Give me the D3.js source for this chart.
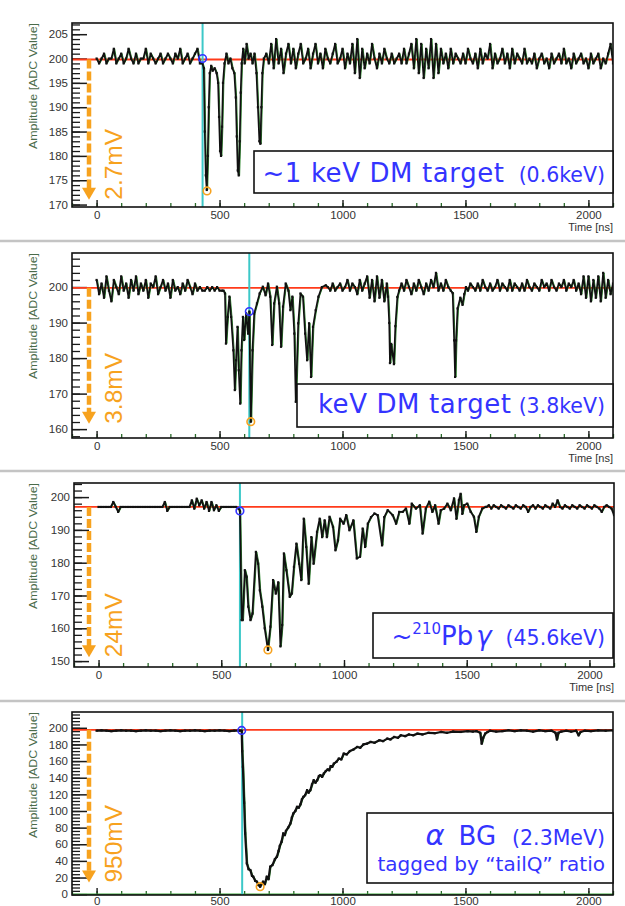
<!DOCTYPE html>
<html>
<head>
<meta charset="utf-8">
<script src="https://cdn.jsdelivr.net/npm/d3@7"></script>
<style>
  body { margin: 0; background: #fff; }
  svg { display: block; }
</style>
</head>
<body>
<div id="chart"></div>
<script>
// ---- data ----
const xTicks = [0, 500, 1000, 1500, 2000];

const p1YLabels = [170, 175, 180, 185, 190, 195, 200, 205];
const p2YLabels = [160, 170, 180, 190, 200];
const p3YLabels = [150, 160, 170, 180, 190, 200];
const p4YLabels = [0, 20, 40, 60, 80, 100, 120, 140, 160, 180, 200];

// panel 1: ~1 keV DM target
const p1NoiseA = [200, 199, 200, 201, 199, 200, 200, 202, 199, 200, 201, 199, 200, 202, 200, 199, 201, 199, 200, 200,
  202, 199, 201, 200, 199, 200, 201, 199, 200, 201, 200, 199, 201, 200, 202, 199, 200, 201, 199, 200, 201, 202, 199]; // 0..420 every 10
const p1Pulse = [[430, 199], [436, 198], [440, 185], [444, 176], [448, 173], [452, 180], [456, 190], [460, 197], [466, 198.5],
  [472, 197.5], [480, 198], [488, 197], [494, 195], [498, 188], [502, 181], [506, 180], [510, 186], [514, 195], [520, 199],
  [528, 201], [536, 199], [544, 200], [552, 198], [560, 197], [566, 192], [570, 184], [574, 177], [578, 176], [582, 183],
  [586, 193], [590, 199], [596, 202], [602, 199], [610, 203], [618, 200], [626, 201], [634, 199], [642, 201], [650, 197],
  [656, 190], [662, 183], [666, 182.5], [670, 190], [674, 197], [680, 200]];
const p1NoiseB = [201, 199, 203, 198, 204, 199, 202, 197, 201, 203, 199, 202, 198, 201, 203, 199, 200, 202, 198, 201,
  203, 199, 201, 198, 202, 200, 199, 201, 203, 199, 200, 202, 198, 201, 199, 203, 197, 204, 196, 202,
  198, 201, 199, 203, 200, 198, 201, 199, 202, 200, 199, 201, 199, 200, 201, 199, 202, 199, 201, 203,
  198, 204, 197, 203, 196, 202, 198, 204, 196, 203, 197, 202, 199, 201, 198, 202, 199, 201, 200, 199,
  201, 199, 202, 200, 199, 201, 198, 202, 199, 201, 200, 203, 198, 201, 199, 200, 202, 199, 201, 198,
  202, 199, 201, 200, 199, 202, 199, 200, 199, 201, 198, 200, 201, 199, 200, 198, 201, 199, 200, 201,
  199, 202, 199, 200, 198, 201, 199, 200, 201, 199, 200, 198, 201, 199, 200, 201, 198, 200, 199, 201,
  203, 199]; // 690..2100 every 10

// panel 2: keV DM target
const p2NoiseA = [202, 198, 201, 197, 203, 199, 196, 202, 200, 198, 203, 199, 201, 197, 202, 199, 203, 198, 201, 199,
  202, 197, 201, 200, 203, 198, 200, 202, 199, 201, 197, 202, 199, 200, 198, 201, 199, 202, 200, 198,
  201, 199, 200, 199, 199, 200, 199, 200, 199, 200, 199, 199]; // 0..510 every 10
const p2Pulse = [[516, 199], [522, 198.2], [526, 184.1], [533, 191.6], [540, 197.3], [547, 191.6], [556, 182.2], [562, 171],
  [567, 179.4], [573, 188.8], [578, 176.6], [584, 167.2], [589, 182.2], [595, 191.6], [600, 185.1], [608, 192.6],
  [616, 186.9], [621, 193.1], [627, 162.1], [634, 182.2], [641, 192.6], [652, 195.4], [663, 198.2], [676, 200.1],
  [687, 197.7], [697, 201], [706, 197.3], [714, 183.7], [722, 195.4], [733, 200.1], [742, 195.4], [750, 183.2],
  [758, 194.5], [769, 201], [780, 199], [788, 193.5], [796, 197.3], [804, 186.9], [810, 167.7], [820, 189.8],
  [829, 198.2], [839, 197.3], [848, 186.9], [856, 179.4], [864, 189.8], [872, 174.7], [880, 188.8], [891, 193.5],
  [902, 197.3], [916, 200], [932, 200.5]];
const p2NoiseB = [200, 199, 201, 199, 200, 201, 199, 200, 202, 199, 201, 200, 198, 202, 199, 201, 203, 197, 202, 196,
  203, 197, 202, 196, 201]; // 940..1180 every 10
const p2PulseB = [[1185, 197.3], [1190, 189.9], [1193, 178.6], [1198, 184], [1204, 181], [1209, 178.3], [1215, 189],
  [1223, 197.2], [1230, 199]];
const p2NoiseC = [201, 199, 202, 200, 198, 201, 199, 202, 200, 198, 201, 199, 202, 200, 204, 199, 201, 199, 202, 200,
  199]; // 1240..1440 every 10
const p2PulseC = [[1448, 198.3], [1454, 185], [1458, 174.7], [1462, 185], [1468, 194], [1479, 197], [1488, 195],
  [1495, 198], [1502, 200]];
const p2NoiseD = [199, 201, 200, 199, 201, 199, 202, 200, 199, 201, 199, 200, 202, 199, 201, 200, 199, 202, 199, 201,
  200, 199, 201, 199, 202, 200, 199, 201, 200, 199, 202, 200, 201, 199, 202, 200, 199, 201, 200, 202,
  199, 201, 200, 202, 199, 201, 198, 203, 197, 203, 196, 202, 197, 203, 196, 204, 197, 202, 198, 201]; // 1510..2100

// panel 3: ~210Pb gamma
const p3NoiseA = [197, 197, 197, 197, 197, 197, 198.5, 197, 195.5, 197, 197, 197, 197, 197, 197, 197, 197, 197, 197, 197,
  197, 197, 197, 197, 197, 197, 197, 198.5, 195.8, 197, 197, 197, 197, 197, 197, 197, 197, 197, 199, 196.5,
  199.5, 197.5, 199, 196.5, 198.5, 195.8, 198.5, 196, 197.5, 195.8, 197, 197, 197, 197, 197, 197, 197, 196.5]; // 0..570
const p3Pulse = [[576, 195.8], [583, 162.5], [587, 162.5], [596, 177.7], [603, 175.7], [610, 166.6], [619, 162.5],
  [627, 164.5], [641, 183.3], [650, 179.7], [657, 171.6], [667, 166.6], [677, 160], [690, 153.4], [700, 160.5],
  [711, 174.7], [722, 170.6], [732, 174], [741, 154.5], [748, 161], [755, 182.8], [765, 177.7], [779, 169.6],
  [787, 170.6], [796, 178.7], [806, 185.8], [817, 179.7], [826, 174.7], [836, 193.4], [846, 184.8], [856, 173.6],
  [867, 187.8], [876, 179.7], [890, 189.4], [901, 193.4], [911, 187.8], [921, 192.9], [930, 187.8], [941, 194],
  [955, 190.9], [965, 183.8], [975, 186.8], [984, 193.4], [998, 191.9], [1009, 194.5], [1022, 189.9], [1038, 192.9],
  [1052, 181.3], [1065, 181.8], [1076, 190.4], [1086, 184.8], [1097, 191.9], [1110, 193.9], [1124, 195], [1137, 194.5],
  [1155, 185.3], [1164, 193.9], [1178, 196], [1198, 194.5], [1212, 191.9], [1225, 195.5], [1239, 195.5], [1252, 196.5],
  [1266, 191.9], [1276, 198], [1293, 196.5], [1309, 197.5], [1320, 188.9], [1333, 196.5], [1347, 198.6], [1360, 195.5],
  [1371, 197.5], [1385, 191.9], [1394, 196], [1408, 196.5], [1421, 198], [1435, 196], [1448, 199.6], [1458, 193.4],
  [1468, 199.1], [1475, 201], [1482, 194.9], [1489, 197.5], [1502, 198], [1516, 195.5], [1529, 194], [1539, 189.4],
  [1549, 194], [1563, 196.5], [1577, 197]];
const p3NoiseB = [197, 197.5, 196.5, 197.5, 197, 196.5, 197.5, 197, 196.5, 197.5, 197, 196.5, 197.5, 197, 196.5, 197.5,
  197, 195.5, 197, 197.5, 196.5, 197.5, 197, 196.5, 197.5, 197, 196.5, 198, 197, 199, 197, 196.5, 197.5, 197, 196.5,
  197.5, 197, 196.5, 197.5, 197, 196.5, 197.5, 197, 196.5, 197.5, 197, 196.5, 195.5, 197, 197.5, 197, 196.5, 194.5]; // 1580..2100

// panel 4: alpha BG
const p4NoiseA = [196.5, 197, 196.5, 196, 196.5, 197, 196.5, 196.5, 196, 196.5, 197, 196.5, 196.5, 196, 196.5, 197,
  196.5, 196, 196.5, 196.5, 197, 196.5, 196, 196.5, 196.5, 197, 196.5, 196, 196.5, 196.5]; // 0..580 every 20
const p4Pulse = [[590, 196.5], [592, 172], [595, 153], [600, 110], [604, 73], [611, 37], [618, 30], [625, 29], [632, 22],
  [637, 21], [645, 16], [652, 15], [658, 11], [665, 9], [670, 12], [677, 15], [684, 12], [692, 21], [699, 18], [706, 33],
  [715, 35], [725, 42], [733, 45], [740, 52], [745, 58], [752, 63], [759, 73], [765, 71], [770, 76], [779, 80], [788, 85],
  [794, 92], [800, 97], [808, 100], [815, 105], [822, 104], [829, 108], [835, 114], [841, 117], [848, 119], [856, 125],
  [862, 122], [869, 125], [876, 132], [883, 137], [890, 134], [897, 137], [904, 142], [910, 143], [917, 141], [924, 145],
  [932, 148], [940, 150], [946, 149], [952, 154], [958, 153], [965, 157], [975, 159], [985, 163], [995, 162], [1005, 169],
  [1017, 168], [1030, 172], [1045, 174], [1060, 177], [1072, 176], [1085, 180], [1100, 181], [1114, 183], [1130, 182],
  [1150, 185], [1165, 184], [1182, 187], [1195, 186], [1210, 189], [1225, 188], [1237, 191], [1255, 190], [1270, 192],
  [1288, 191], [1305, 193], [1325, 192], [1350, 194], [1375, 193.5], [1400, 195], [1425, 194], [1450, 195.5],
  [1480, 195], [1509, 196], [1530, 195.5], [1545, 196], [1560, 194], [1566, 181], [1572, 188], [1580, 193], [1590, 195],
  [1600, 196.5], [1625, 195.5], [1650, 196], [1675, 197], [1700, 196], [1725, 197], [1750, 196.5], [1775, 195.5],
  [1800, 197], [1825, 196], [1850, 196.5], [1866, 194], [1872, 186], [1878, 194], [1890, 195.5], [1910, 196.5],
  [1930, 195.5], [1950, 196.5], [1960, 191], [1968, 195], [1985, 196.5], [2010, 196], [2040, 197], [2070, 196.5],
  [2100, 197]];

// annotations per panel
const baselines = [199.8, 199.8, 197, 197.6];
const triggerTimes = [431, 621, 576, 592];
const startPoints = [[431, 200], [621, 193.1], [576, 195.8], [590, 196.8]];
const peakPoints = [[449, 172.8], [627, 162.1], [690, 153.4], [665, 9]];
const arrowEnds = [171, 161.5, 151.2, 14];
const arrowLabels = ["2.7mV", "3.8mV", "24mV", "950mV"];

// ---- helpers ----
const every = (start, step, values) => values.map((v, i) => [start + i * step, v]);

const waves = [
  [...every(0, 10, p1NoiseA), ...p1Pulse, ...every(690, 10, p1NoiseB)],
  [...every(0, 10, p2NoiseA), ...p2Pulse, ...every(940, 10, p2NoiseB), ...p2PulseB,
   ...every(1240, 10, p2NoiseC), ...p2PulseC, ...every(1510, 10, p2NoiseD)],
  [...every(0, 10, p3NoiseA), ...p3Pulse, ...every(1580, 10, p3NoiseB)],
  [...every(0, 20, p4NoiseA), ...p4Pulse]
];

const yLabels = [p1YLabels, p2YLabels, p3YLabels, p4YLabels];

// ---- layout ----
const W = 625, H = 906;
const frames = [
  { x0: 72, x1: 613, y0: 23, y1: 207, yDom: [169.5, 207.3], minor: 1, timeLabel: true, pad: 4, lw: 1.7 },
  { x0: 72, x1: 613, y0: 253, y1: 438, yDom: [157.5, 209.6], minor: 2, timeLabel: true, pad: 4, lw: 1.7 },
  { x0: 74, x1: 614, y0: 483, y1: 667, yDom: [148.2, 204.3], minor: 2, timeLabel: true, pad: 4, lw: 1.8 },
  { x0: 72, x1: 613, y0: 712, y1: 895, yDom: [-1, 219], minor: 4, timeLabel: false, pad: 1.5, lw: 2.2 }
];
const legendBoxes = [
  { x0: 254, y0: 151, x1: 613, y1: 193 },
  { x0: 297, y0: 384, x1: 613, y1: 427 },
  { x0: 373, y0: 613, x1: 613, y1: 658 },
  { x0: 367, y0: 813, x1: 613, y1: 883 }
];
const separators = [241, 471, 701];

const BLUE = "#3434ff", ORANGE = "#f7a21e", RED = "#ff3a1a", CYAN = "#3cc8c8";
const tickFont = "'Liberation Sans', Arial, sans-serif";
const legendFont = "'DejaVu Sans', sans-serif";

const svg = d3.select("#chart").append("svg")
  .attr("width", W)
  .attr("height", H)
  .attr("viewBox", `0 0 ${W} ${H}`);

svg.append("rect").attr("width", W).attr("height", H).attr("fill", "#fff");

// light panel separators
separators.forEach(y => {
  svg.append("line").attr("x1", 0).attr("x2", W).attr("y1", y).attr("y2", y)
    .attr("stroke", "#c4c4c4").attr("stroke-width", 2.5);
});

frames.forEach((f, i) => {
  const g = svg.append("g");
  const x = d3.scaleLinear().domain([-100, 2100]).range([f.x0, f.x1]);
  const y = d3.scaleLinear().domain(f.yDom).range([f.y1, f.y0]);

  const clipId = `clip${i}`;
  svg.append("clipPath").attr("id", clipId).append("rect")
    .attr("x", f.x0).attr("y", f.y0).attr("width", f.x1 - f.x0).attr("height", f.y1 - f.y0);

  // y axis: major + minor ticks pointing inward
  const minorY = d3.range(Math.ceil(f.yDom[0] / f.minor) * f.minor, f.yDom[1], f.minor);
  g.append("g").attr("transform", `translate(${f.x0},0)`)
    .call(d3.axisLeft(y).tickValues(minorY).tickSizeInner(-8).tickSizeOuter(0).tickFormat(""))
    .call(a => a.select(".domain").remove())
    .call(a => a.selectAll("line").attr("stroke", "#1a1a1a").attr("stroke-width", 1.3));
  g.append("g").attr("transform", `translate(${f.x0},0)`)
    .call(d3.axisLeft(y).tickValues(yLabels[i]).tickSizeInner(-15).tickSizeOuter(0).tickPadding(4))
    .call(a => a.select(".domain").remove())
    .call(a => a.selectAll("line").attr("stroke", "#1a1a1a").attr("stroke-width", 1.5))
    .call(a => a.selectAll("text").attr("font-family", tickFont).attr("font-size", 11.5).attr("fill", "#333"));

  // x axis: major + minor ticks pointing up
  g.append("g").attr("transform", `translate(0,${f.y1})`)
    .call(d3.axisBottom(x).tickValues(d3.range(-100, 2101, 100)).tickSizeInner(-4).tickSizeOuter(0).tickFormat(""))
    .call(a => a.select(".domain").remove())
    .call(a => a.selectAll("line").attr("stroke", "#2a6a2a").attr("stroke-width", 1.3));
  g.append("g").attr("transform", `translate(0,${f.y1})`)
    .call(d3.axisBottom(x).tickValues(xTicks).tickFormat(d3.format("d"))
      .tickSizeInner(-7).tickSizeOuter(0).tickPadding(f.pad))
    .call(a => a.select(".domain").remove())
    .call(a => a.selectAll("line").attr("stroke", "#1a1a1a").attr("stroke-width", 1.4))
    .call(a => a.selectAll("text").attr("font-family", tickFont).attr("font-size", 11.5).attr("fill", "#333"));

  // axis titles
  g.append("text")
    .attr("transform", `translate(37,${f.y0}) rotate(-90)`)
    .attr("text-anchor", "end")
    .attr("font-family", tickFont).attr("font-size", 10.5).attr("fill", "#4a6b4a")
    .attr("textLength", 126).attr("lengthAdjust", "spacingAndGlyphs")
    .text("Amplitude [ADC Value]");
  if (f.timeLabel) {
    g.append("text")
      .attr("x", f.x1).attr("y", f.y1 + 24)
      .attr("text-anchor", "end")
      .attr("font-family", tickFont).attr("font-size", 11).attr("fill", "#333")
      .text("Time [ns]");
  }

  const plot = g.append("g").attr("clip-path", `url(#${clipId})`);

  // zero line in the alpha panel
  if (f.yDom[0] < 0) {
    plot.append("line").attr("x1", f.x0).attr("x2", f.x1).attr("y1", y(0)).attr("y2", y(0))
      .attr("stroke", "#3aa63a").attr("stroke-width", 1.5);
  }

  // baseline (red) and trigger (cyan)
  plot.append("line")
    .attr("x1", f.x0).attr("x2", f.x1)
    .attr("y1", y(baselines[i])).attr("y2", y(baselines[i]))
    .attr("stroke", RED).attr("stroke-width", 1.8);
  plot.append("line")
    .attr("x1", x(triggerTimes[i])).attr("x2", x(triggerTimes[i]))
    .attr("y1", f.y0).attr("y2", f.y1)
    .attr("stroke", CYAN).attr("stroke-width", 2);

  // waveform
  const line = d3.line().x(d => x(d[0])).y(d => y(d[1]));
  plot.append("path").datum(waves[i])
    .attr("d", line)
    .attr("fill", "none")
    .attr("stroke", "#2f8a2f")
    .attr("stroke-width", 1)
    .attr("transform", "translate(0.9,0)");
  plot.append("path").datum(waves[i])
    .attr("d", line)
    .attr("fill", "none")
    .attr("stroke", "#111")
    .attr("stroke-width", f.lw)
    .attr("stroke-linejoin", "round");
  plot.append("g").selectAll("rect").data(waves[i]).join("rect")
    .attr("x", d => x(d[0]) - 1.1).attr("y", d => y(d[1]) - 1.1)
    .attr("width", 2.2).attr("height", 2.2).attr("fill", "#111");

  // start / peak markers
  plot.append("circle")
    .attr("cx", x(startPoints[i][0])).attr("cy", y(startPoints[i][1])).attr("r", 3.8)
    .attr("fill", "none").attr("stroke", BLUE).attr("stroke-width", 1.6);
  plot.append("circle")
    .attr("cx", x(peakPoints[i][0])).attr("cy", y(peakPoints[i][1])).attr("r", 3.8)
    .attr("fill", "none").attr("stroke", ORANGE).attr("stroke-width", 1.6);

  // frame
  g.append("rect")
    .attr("x", f.x0).attr("y", f.y0).attr("width", f.x1 - f.x0).attr("height", f.y1 - f.y0)
    .attr("fill", "none").attr("stroke", "#111").attr("stroke-width", 1.6);

  // orange dashed amplitude arrow
  const ax = 89, yTop = y(baselines[i]), yTip = y(arrowEnds[i]);
  g.append("line")
    .attr("x1", ax).attr("x2", ax).attr("y1", yTop).attr("y2", yTip - 10)
    .attr("stroke", ORANGE).attr("stroke-width", 4.5)
    .attr("stroke-dasharray", "9,3");
  g.append("path")
    .attr("d", `M${ax - 7},${yTip - 12} L${ax + 7},${yTip - 12} L${ax},${yTip} Z`)
    .attr("fill", ORANGE);
  g.append("text")
    .attr("transform", `translate(122,${yTip}) rotate(-90)`)
    .attr("font-family", tickFont).attr("font-size", 24.5).attr("fill", ORANGE)
    .text(arrowLabels[i]);

  // legend box
  const b = legendBoxes[i];
  g.append("rect")
    .attr("x", b.x0).attr("y", b.y0).attr("width", b.x1 - b.x0).attr("height", b.y1 - b.y0)
    .attr("fill", "#fff").attr("stroke", "#111").attr("stroke-width", 1.6);
});

// legend texts
const lg = svg.append("g").attr("fill", BLUE).attr("font-family", legendFont).attr("text-anchor", "end");

const t1 = lg.append("text").attr("x", 605).attr("y", 182);
t1.append("tspan").attr("font-size", 26).attr("letter-spacing", 0.6).text("~1 keV DM target");
t1.append("tspan").attr("font-size", 20.5).attr("dx", 14).text("(0.6keV)");

const t2 = lg.append("text").attr("x", 605).attr("y", 413);
t2.append("tspan").attr("font-size", 26).attr("letter-spacing", 0.6).text("keV DM target");
t2.append("tspan").attr("font-size", 20.5).attr("dx", 7).text("(3.8keV)");

const t3 = lg.append("text").attr("x", 605).attr("y", 645);
t3.append("tspan").attr("font-size", 25).text("~");
t3.append("tspan").attr("font-size", 15).attr("dy", -11).text("210");
t3.append("tspan").attr("font-size", 26).attr("dy", 11).text("Pb");
t3.append("tspan").attr("font-size", 26).attr("font-style", "italic").attr("dx", 3).text("γ");
t3.append("tspan").attr("font-size", 20.5).attr("dx", 14).text("(45.6keV)");

const t4 = lg.append("text").attr("x", 605).attr("y", 845);
t4.append("tspan").attr("font-size", 29).attr("font-style", "italic").text("α");
t4.append("tspan").attr("font-size", 26).attr("dx", 14).text("BG");
t4.append("tspan").attr("font-size", 20.5).attr("dx", 16).text("(2.3MeV)");
lg.append("text").attr("x", 605).attr("y", 871).attr("font-size", 20)
  .text("tagged by “tailQ” ratio");
</script>
</body>
</html>
